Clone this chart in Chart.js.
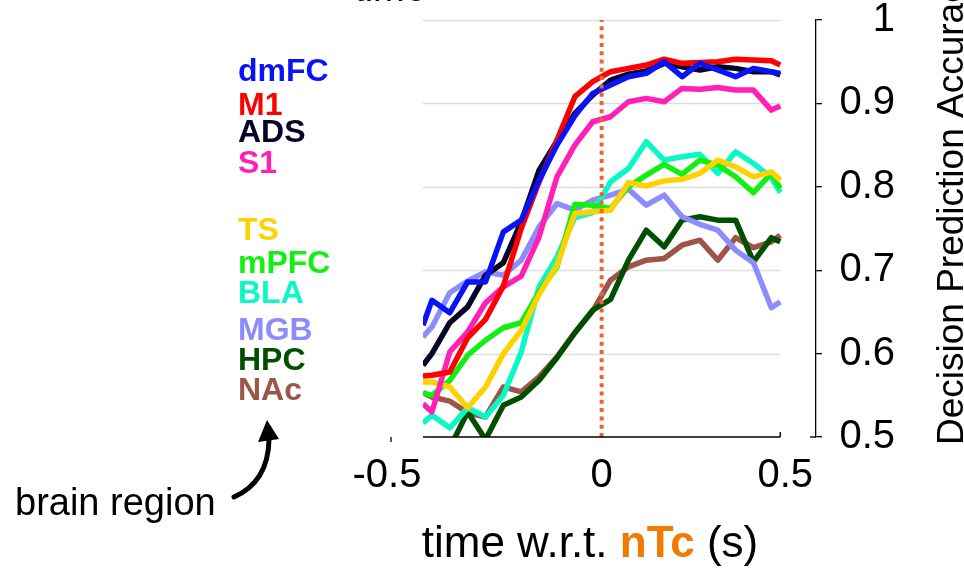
<!DOCTYPE html>
<html>
<head>
<meta charset="utf-8">
<script src="https://cdn.jsdelivr.net/npm/chart.js@4/dist/chart.umd.min.js"></script>
<style>
  html, body { margin: 0; padding: 0; background: #ffffff; }
  #wrap { width: 964px; height: 571px; position: relative; }
</style>
</head>
<body>
<div id="wrap"><canvas id="c" width="964" height="571"></canvas></div>
<script>
// Time bins (s, relative to nTc); the outer two entries are the window edges.
const timeBins = [-0.5, -0.475, -0.425, -0.375, -0.325, -0.275, -0.225, -0.175, -0.125, -0.075, -0.025,
                  0.025, 0.075, 0.125, 0.175, 0.225, 0.275, 0.325, 0.375, 0.425, 0.475, 0.5];

// Decision prediction accuracy per brain region
const dmFC = [0.634, 0.664, 0.649, 0.686, 0.686, 0.746, 0.760, 0.808, 0.850, 0.885, 0.912,
              0.922, 0.932, 0.936, 0.950, 0.932, 0.948, 0.940, 0.932, 0.942, 0.938, 0.936];
const M1   = [0.573, 0.574, 0.578, 0.619, 0.641, 0.681, 0.750, 0.806, 0.856, 0.908, 0.926,
              0.938, 0.942, 0.946, 0.953, 0.948, 0.949, 0.950, 0.953, 0.952, 0.951, 0.946];
const ADS  = [0.586, 0.600, 0.637, 0.656, 0.694, 0.709, 0.758, 0.820, 0.855, 0.888, 0.910,
              0.928, 0.935, 0.939, 0.948, 0.944, 0.940, 0.944, 0.942, 0.938, 0.938, 0.934];
const S1   = [0.540, 0.530, 0.602, 0.626, 0.661, 0.680, 0.693, 0.740, 0.812, 0.850, 0.878,
              0.884, 0.902, 0.906, 0.902, 0.918, 0.917, 0.919, 0.916, 0.916, 0.892, 0.897];
const TS   = [0.566, 0.566, 0.560, 0.535, 0.560, 0.600, 0.628, 0.671, 0.706, 0.768, 0.770,
              0.772, 0.805, 0.801, 0.807, 0.809, 0.816, 0.832, 0.824, 0.812, 0.818, 0.808];
const mPFC = [0.553, 0.550, 0.568, 0.598, 0.616, 0.631, 0.637, 0.674, 0.704, 0.779, 0.778,
              0.774, 0.800, 0.814, 0.827, 0.815, 0.832, 0.826, 0.812, 0.793, 0.816, 0.798];
const BLA  = [0.517, 0.526, 0.511, 0.535, 0.524, 0.550, 0.602, 0.680, 0.716, 0.763, 0.769,
              0.806, 0.822, 0.854, 0.832, 0.836, 0.839, 0.816, 0.842, 0.828, 0.811, 0.793];
const MGB  = [0.620, 0.632, 0.673, 0.687, 0.698, 0.694, 0.712, 0.752, 0.780, 0.772, 0.784,
              0.790, 0.797, 0.778, 0.790, 0.764, 0.755, 0.748, 0.724, 0.709, 0.655, 0.662];
const HPC  = [0.470, 0.470, 0.487, 0.530, 0.497, 0.538, 0.548, 0.568, 0.595, 0.625, 0.652,
              0.665, 0.712, 0.748, 0.728, 0.760, 0.764, 0.760, 0.760, 0.710, 0.739, 0.734];
const NAc  = [0.553, 0.548, 0.543, 0.529, 0.524, 0.560, 0.554, 0.572, 0.596, 0.625, 0.651,
              0.688, 0.704, 0.712, 0.714, 0.730, 0.736, 0.712, 0.739, 0.727, 0.734, 0.742];

const regionNames  = ['dmFC', 'M1', 'ADS', 'S1', 'TS', 'mPFC', 'BLA', 'MGB', 'HPC', 'NAc'];
const regionSeries = [dmFC, M1, ADS, S1, TS, mPFC, BLA, MGB, HPC, NAc];
const regionColors = ['#0a12f6', '#ff0000', '#05052a', '#ff20b6', '#ffd100', '#12f012',
                      '#08f8c6', '#8c8cff', '#004f00', '#9d5449'];

const yTicks = [0.5, 0.6, 0.7, 0.8, 0.9, 1];
const xTicks = [-0.5, 0, 0.5];
const xTickLabels = ['-0.5', '0', '0.5'];
const eventTime = 0;   // nTc

const FONT = '"Liberation Sans", Arial, Helvetica, sans-serif';

const datasets = [{
  label: 'nTc',
  data: [{ x: eventTime, y: yTicks[0] }, { x: eventTime, y: yTicks[yTicks.length - 1] }],
  borderColor: '#f2622e', borderWidth: 4, borderDash: [4, 4.3],
  pointRadius: 0, clip: 0, fill: false
}].concat(regionNames.map((name, i) => ({
  label: name,
  data: timeBins.map((t, j) => ({ x: t, y: regionSeries[i][j] })),
  borderColor: regionColors[i],
  borderWidth: 5.5,
  borderJoinStyle: 'round',
  pointRadius: 0,
  tension: 0,
  clip: 0,
  fill: false
})));

// Axis line, grid, labels and annotations around the plot
const decor = {
  id: 'decor',
  beforeDatasetsDraw(chart) {
    const { ctx, scales: { x, y } } = chart;
    const x0 = x.getPixelForValue(timeBins[0]);
    const x1 = x.getPixelForValue(timeBins[timeBins.length - 1]);
    ctx.save();
    ctx.strokeStyle = '#dedede';
    ctx.lineWidth = 1.5;
    yTicks.slice(1).forEach(v => {
      const py = Math.round(y.getPixelForValue(v)) + 0.5;
      ctx.beginPath(); ctx.moveTo(x0, py); ctx.lineTo(x1, py); ctx.stroke();
    });
    ctx.restore();
  },
  afterDatasetsDraw(chart) {
    const { ctx, scales: { x, y } } = chart;
    const x0 = x.getPixelForValue(timeBins[0]);
    const x1 = x.getPixelForValue(timeBins[timeBins.length - 1]);
    const yb = y.getPixelForValue(yTicks[0]);
    ctx.save();
    ctx.strokeStyle = '#000'; ctx.lineWidth = 1.4;
    ctx.beginPath(); ctx.moveTo(x0, yb); ctx.lineTo(x1, yb); ctx.stroke();
    // end tick of the time axis
    ctx.beginPath(); ctx.moveTo(x1, yb); ctx.lineTo(x1, yb - 5); ctx.stroke();
    // lower tick of the accuracy axis reaches to both sides
    ctx.beginPath(); ctx.moveTo(y.left - 6, yb); ctx.lineTo(y.left, yb); ctx.stroke();
    ctx.restore();
  },
  afterDraw(chart, args, opts) {
    const { ctx, scales: { x, y } } = chart;
    const yb = y.getPixelForValue(yTicks[0]);
    ctx.save();

    // time tick labels
    ctx.fillStyle = '#000';
    ctx.font = `40px ${FONT}`;
    ctx.textAlign = 'center';
    ctx.textBaseline = 'alphabetic';
    xTicks.forEach((v, i) => {
      const px = x.getPixelForValue(v) + opts.xLabelShift[i];
      ctx.fillText(xTickLabels[i], px, yb + 50);
    });
    // detached tick below the first label
    ctx.strokeStyle = '#000'; ctx.lineWidth = 1.3;
    const pxFirst = x.getPixelForValue(xTicks[0]) + opts.xLabelShift[0] + 4;
    ctx.beginPath(); ctx.moveTo(pxFirst, yb); ctx.lineTo(pxFirst, yb + 5); ctx.stroke();

    // time axis title with the event name in bold orange
    const parts = [
      { t: 'time w.r.t. ', f: `44px ${FONT}`, c: '#000' },
      { t: 'nTc', f: `bold 44px ${FONT}`, c: '#f27a00' },
      { t: ' (s)', f: `44px ${FONT}`, c: '#000' }
    ];
    let total = 0;
    parts.forEach(p => { ctx.font = p.f; p.w = ctx.measureText(p.t).width; total += p.w; });
    let cx = opts.titleCenter - total / 2;
    ctx.textAlign = 'left';
    parts.forEach(p => { ctx.font = p.f; ctx.fillStyle = p.c; ctx.fillText(p.t, cx, opts.titleBaseline); cx += p.w; });

    // accuracy axis title, reading upwards
    ctx.save();
    ctx.translate(963, 445);
    ctx.rotate(-Math.PI / 2);
    ctx.font = `37px ${FONT}`;
    ctx.fillStyle = '#000';
    ctx.textAlign = 'left';
    ctx.fillText('Decision Prediction Accuracy', 0, 0);
    ctx.restore();

    // partly hidden caption at the top edge
    ctx.font = `38px ${FONT}`;
    ctx.fillStyle = '#000';
    ctx.textAlign = 'center';
    ctx.fillText('time', 390, 1);

    // region labels in line colours
    ctx.font = `bold 32px ${FONT}`;
    ctx.textAlign = 'left';
    regionNames.forEach((n, i) => {
      ctx.fillStyle = regionColors[i];
      ctx.fillText(n, 238, opts.labelBaselines[i]);
    });

    // "brain region" note with curved arrow
    ctx.font = `38px ${FONT}`;
    ctx.fillStyle = '#000';
    ctx.fillText('brain region', 15, 515);
    ctx.strokeStyle = '#000';
    ctx.lineWidth = 5;
    ctx.lineCap = 'round';
    ctx.beginPath();
    ctx.moveTo(234, 497);
    ctx.quadraticCurveTo(268, 482, 269, 440);
    ctx.stroke();
    ctx.beginPath();
    ctx.moveTo(267, 420);
    ctx.lineTo(258, 442);
    ctx.lineTo(279, 439);
    ctx.closePath();
    ctx.fillStyle = '#000';
    ctx.fill();

    ctx.restore();
  }
};

new Chart(document.getElementById('c'), {
  type: 'line',
  data: { datasets },
  options: {
    responsive: false,
    animation: false,
    devicePixelRatio: 1,
    layout: { padding: { left: 423, top: 20, right: 69, bottom: 134 } },
    plugins: {
      legend: { display: false },
      tooltip: { enabled: false },
      decor: {
        xLabelShift: [-36, 0, 5],
        titleCenter: 590,
        titleBaseline: 557,
        labelBaselines: [81, 115, 142, 173, 240, 273, 303, 340, 370, 400]
      }
    },
    scales: {
      x: { type: 'linear', min: -0.5, max: 0.6, display: false },
      y: {
        type: 'linear',
        position: 'right',
        min: 0.5,
        max: 1,
        afterBuildTicks: s => { s.ticks = yTicks.map(v => ({ value: v })); },
        afterFit: s => { s.width = 79; s.paddingTop = 0; s.paddingBottom = 0; },
        ticks: {
          font: { family: FONT, size: 40 },
          color: '#000',
          padding: 17,
          crossAlign: 'far',
          callback: v => String(v)
        },
        grid: {
          drawOnChartArea: false,
          drawTicks: true,
          tickLength: 6,
          color: '#000',
          tickColor: '#000',
          tickWidth: 1.3,
          lineWidth: 1.3
        },
        border: { display: true, color: '#000', width: 1.3 }
      }
    }
  },
  plugins: [decor]
});
</script>
</body>
</html>
